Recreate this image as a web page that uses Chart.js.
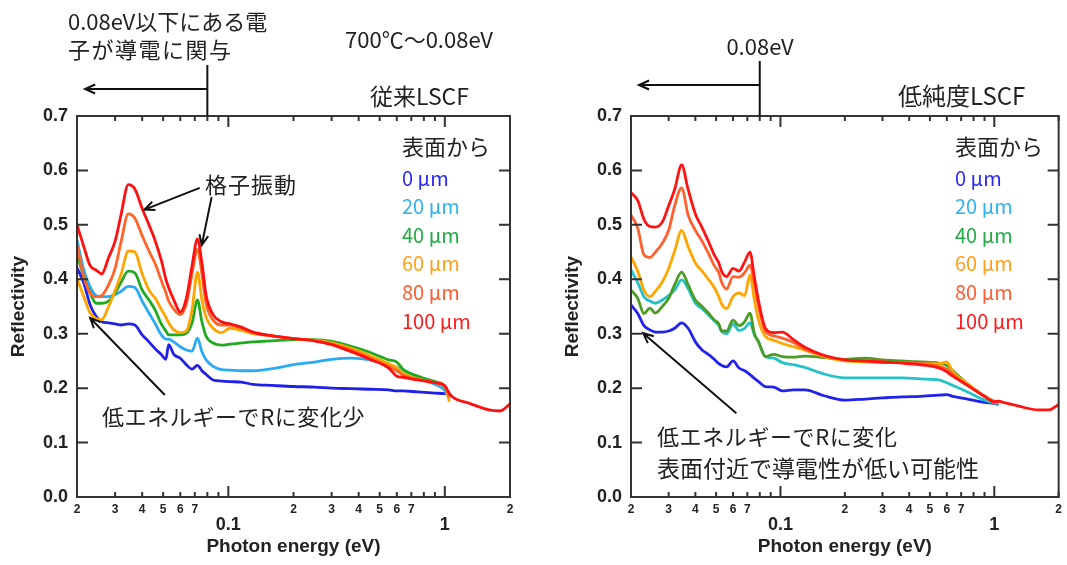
<!DOCTYPE html>
<html>
<head>
<meta charset="utf-8">
<script src="https://cdn.jsdelivr.net/npm/chart.js@4.4.1/dist/chart.umd.min.js"></script>
<style>
  html, body { margin: 0; padding: 0; background: #fff; }
  #wrap { position: relative; width: 1067px; height: 565px; overflow: hidden; }
  .panel { position: absolute; top: 0; }
  #left { left: 0; }
  #right { left: 554px; }
</style>
</head>
<body>
<div id="wrap">
  <div class="panel" id="left"><canvas id="cLeft" width="540" height="565"></canvas></div>
  <div class="panel" id="right"><canvas id="cRight" width="513" height="565"></canvas></div>
</div>
<script>
// --- data ---
const depths = ['0 µm', '20 µm', '40 µm', '60 µm', '80 µm', '100 µm'];

// photon energy (eV), shared grid for both panels
const energy = [0.02, 0.0215, 0.023, 0.0245, 0.026, 0.028, 0.030, 0.032, 0.0345, 0.037,
  0.040, 0.043, 0.046, 0.049, 0.0515, 0.053, 0.056, 0.060, 0.064, 0.068,
  0.072, 0.0755, 0.079, 0.085, 0.093, 0.102, 0.115, 0.13, 0.16, 0.2,
  0.25, 0.3, 0.37, 0.45, 0.55, 0.6, 0.64, 0.75, 0.9, 1.0,
  1.05, 1.1, 1.3, 1.6, 1.8, 2.0];

// 従来LSCF
const conv0 = [.421, .393, .353, .332, .322, .320, .318, .316, .318, .316, .298, .285, .272, .262, .253, .280, .262, .255, .243, .235,
  .242, .232, .225, .215, .213, .212, .211, .207, .205, .203, .202, .200, .199, .198, .197, .195, .195, .193, .191, .190, .195];
const conv20 = [.472, .417, .386, .370, .368, .368, .372, .378, .387, .385, .360, .338, .318, .298, .290, .290, .285, .276, .270, .268,
  .292, .267, .252, .240, .234, .233, .232, .232, .236, .243, .248, .253, .255, .252, .243, .238, .233, .220, .207, .196, .180];
const conv40 = [.448, .404, .375, .356, .356, .360, .375, .395, .415, .412, .380, .362, .343, .318, .305, .298, .298, .298, .301, .320,
  .362, .322, .295, .283, .279, .281, .283, .285, .287, .289, .289, .286, .277, .266, .252, .248, .235, .222, .212, .204, .185];
const conv60 = [.402, .368, .338, .328, .326, .350, .380, .410, .452, .450, .410, .380, .365, .345, .330, .320, .307, .302, .305, .345,
  .413, .362, .330, .310, .302, .310, .306, .300, .296, .291, .288, .283, .273, .260, .245, .238, .228, .217, .210, .204, .175];
const conv80 = [.463, .404, .375, .368, .370, .390, .420, .470, .520, .512, .480, .452, .428, .398, .375, .360, .345, .335, .355, .410,
  .455, .410, .355, .325, .316, .316, .310, .302, .296, .291, .287, .281, .270, .256, .240, .232, .224, .216, .210, .204, .185];
const conv100 = [.500, .460, .425, .417, .410, .440, .470, .520, .574, .566, .530, .500, .470, .435, .400, .385, .362, .340, .365, .425,
  .474, .430, .370, .335, .322, .318, .312, .303, .296, .291, .287, .280, .267, .253, .237, .222, .220, .215, .210, .204,
  .190, .182, .172, .160, .158, .171];

// 低純度LSCF
const low0 = [.353, .337, .315, .307, .303, .303, .305, .310, .320, .310, .285, .270, .262, .253, .245, .242, .239, .250, .237, .232,
  .225, .218, .212, .203, .202, .195, .197, .197, .186, .178, .180, .182, .184, .185, .187, .188, .185, .180, .174, .172, .170];
const low20 = [.417, .394, .368, .360, .356, .362, .370, .380, .399, .383, .356, .346, .335, .324, .315, .305, .300, .318, .306, .310,
  .320, .298, .285, .258, .255, .247, .243, .238, .226, .219, .219, .219, .219, .217, .215, .210, .205, .193, .178, .173, .172];
const low40 = [.380, .365, .337, .347, .338, .350, .365, .390, .413, .390, .362, .350, .338, .325, .318, .305, .305, .325, .315, .322,
  .338, .300, .285, .258, .262, .258, .257, .259, .256, .253, .255, .252, .250, .248, .246, .242, .232, .208, .185, .176, .175];
const low60 = [.441, .415, .380, .368, .378, .395, .420, .452, .490, .460, .430, .415, .400, .385, .368, .355, .346, .368, .375, .370,
  .408, .362, .325, .295, .288, .282, .276, .270, .258, .250, .248, .247, .247, .245, .245, .248, .230, .208, .185, .175, .172];
const low80 = [.518, .494, .445, .440, .450, .466, .490, .535, .568, .518, .490, .470, .448, .425, .412, .395, .382, .405, .404, .412,
  .426, .393, .350, .305, .296, .292, .284, .272, .260, .252, .250, .248, .247, .245, .240, .235, .225, .205, .185, .175, .175];
const low100 = [.559, .545, .510, .497, .496, .505, .535, .565, .610, .565, .520, .495, .470, .445, .430, .415, .405, .420, .415, .432,
  .450, .404, .360, .310, .302, .303, .289, .275, .260, .252, .250, .248, .246, .243, .237, .230, .222, .205, .185, .175,
  .176, .174, .167, .160, .160, .170];

// axis ticks
const xTicks = [0.02, 0.03, 0.04, 0.05, 0.06, 0.07, 0.08, 0.09, 0.1, 0.2, 0.3, 0.4, 0.5, 0.6, 0.7, 0.8, 0.9, 1, 2];
const xTickLabels = ['2', '3', '4', '5', '6', '7', '', '', '0.1', '2', '3', '4', '5', '6', '7', '', '', '1', '2'];

// colours
const legendColors = ['#2a2af5', '#2cb4f0', '#22aa44', '#ffa01a', '#ff5a30', '#ff1a1a'];
const convColors = ['#2020e8', '#2aaaf2', '#20aa20', '#ffa500', '#ff6428', '#ff1010'];
const lowColors = ['#2222ee', '#22c2c8', '#4a9c22', '#ffa500', '#ff6030', '#ff1414'];

const AX_FONT = 'Liberation Sans, Arial, sans-serif';
const JP_FONT = '"Noto Sans CJK JP", sans-serif';
const INK = '#222';

const isDecade = v => {
    const e = Math.floor(Math.log10(v) + 1e-9);
    return Math.abs(v / Math.pow(10, e) - 1) < 1e-6;
};

function arrow(ctx, x1, y1, x2, y2) {
    const ang = Math.atan2(y2 - y1, x2 - x1), h = 11, s = 0.42;
    ctx.beginPath();
    ctx.moveTo(x1, y1);
    ctx.lineTo(x2, y2);
    ctx.moveTo(x2 - h * Math.cos(ang - s), y2 - h * Math.sin(ang - s));
    ctx.lineTo(x2, y2);
    ctx.lineTo(x2 - h * Math.cos(ang + s), y2 - h * Math.sin(ang + s));
    ctx.stroke();
}

// frame with inward ticks + annotations
function makeOverlay(notes) {
    return {
        id: 'overlay',
        afterDraw(chart) {
            const { ctx, chartArea: a, scales: { x, y } } = chart;
            ctx.save();
            // frame & ticks
            ctx.strokeStyle = '#333';
            ctx.lineWidth = 2;
            ctx.strokeRect(a.left, a.top, a.width, a.height);
            ctx.beginPath();
            y.ticks.forEach(t => {
                const py = y.getPixelForValue(t.value);
                ctx.moveTo(a.left, py); ctx.lineTo(a.left + 11, py);
                ctx.moveTo(a.right, py); ctx.lineTo(a.right - 11, py);
            });
            x.ticks.forEach(t => {
                const px = x.getPixelForValue(t.value);
                const len = isDecade(t.value) ? 11 : 5;
                ctx.moveTo(px, a.bottom); ctx.lineTo(px, a.bottom - len);
                ctx.moveTo(px, a.top); ctx.lineTo(px, a.top + len);
            });
            ctx.stroke();

            // 0.08 eV marker with leftward arrow
            ctx.strokeStyle = '#111';
            ctx.lineWidth = 2;
            const mx = x.getPixelForValue(0.08);
            ctx.beginPath();
            ctx.moveTo(mx, notes.markTop);
            ctx.lineTo(mx, a.top);
            ctx.stroke();
            arrow(ctx, mx, notes.arrowY, x.getPixelForValue(0.0218), notes.arrowY);

            // arrows inside the plot (data coords)
            notes.arrows.forEach(([e1, r1, e2, r2]) => {
                arrow(ctx, x.getPixelForValue(e1), y.getPixelForValue(r1),
                    x.getPixelForValue(e2), y.getPixelForValue(r2));
            });

            // texts
            ctx.fillStyle = INK;
            ctx.textBaseline = 'middle';
            notes.texts.forEach(([txt, tx, ty, size, align, spacing]) => {
                ctx.font = `${size}px ${JP_FONT}`;
                ctx.textAlign = align || 'left';
                ctx.letterSpacing = (spacing || 0) + 'px';
                ctx.fillText(txt, tx, ty);
            });
            ctx.letterSpacing = '0px';

            // legend: coloured text only
            ctx.textAlign = 'left';
            ctx.font = `22px ${JP_FONT}`;
            ctx.fillText('表面から', notes.legendX, 147);
            ctx.font = `20px ${JP_FONT}`;
            chart.data.datasets.forEach((ds, i) => {
                ctx.fillStyle = legendColors[i];
                ctx.fillText(ds.label, notes.legendX, 178 + i * 28.6);
            });
            ctx.restore();
        }
    };
}

function buildChart(canvasId, series, colors, padRight, notes) {
    const datasets = series.map((vals, i) => ({
        label: depths[i],
        data: vals.map((v, k) => ({ x: energy[k], y: v })),
        borderColor: colors[i],
        borderWidth: 2.8,
        pointRadius: 0,
        cubicInterpolationMode: 'monotone',
        fill: false,
        order: series.length - 1 - i
    }));

    return new Chart(document.getElementById(canvasId), {
        type: 'line',
        data: { datasets },
        plugins: [makeOverlay(notes)],
        options: {
            responsive: false,
            animation: false,
            layout: { padding: { left: 0, top: 116, right: padRight, bottom: 0 } },
            plugins: { legend: { display: false }, tooltip: { enabled: false } },
            scales: {
                x: {
                    type: 'logarithmic',
                    min: 0.02,
                    max: 2,
                    bounds: 'data',
                    afterBuildTicks: s => { s.ticks = xTicks.map(v => ({ value: v })); },
                    afterFit: s => { s.height = 68; },
                    grid: { display: false, drawTicks: false },
                    border: { display: false },
                    ticks: {
                        autoSkip: false,
                        maxRotation: 0,
                        padding: 5,
                        color: INK,
                        font: c => isDecade(c.tick.value)
                            ? { family: AX_FONT, size: 18, weight: 'bold', lineHeight: 0.85 }
                            : { family: AX_FONT, size: 12, weight: 'bold', lineHeight: 1.2 },
                        callback: (v, i) => isDecade(v) ? ['', xTickLabels[i]] : xTickLabels[i]
                    },
                    title: {
                        display: true,
                        text: 'Photon energy (eV)',
                        color: INK,
                        font: { family: AX_FONT, size: 19, weight: 'bold' },
                        padding: { top: 0, bottom: 7 }
                    }
                },
                y: {
                    min: 0,
                    max: 0.7,
                    afterFit: s => { s.width = 77; },
                    grid: { display: false, drawTicks: false },
                    border: { display: false },
                    ticks: {
                        stepSize: 0.1,
                        padding: 9,
                        color: INK,
                        font: { family: AX_FONT, size: 18, weight: 'bold' },
                        callback: v => v.toFixed(1)
                    },
                    title: {
                        display: true,
                        text: 'Reflectivity',
                        color: INK,
                        font: { family: AX_FONT, size: 19, weight: 'bold' },
                        padding: { top: 7, bottom: 0 }
                    }
                }
            }
        }
    });
}

buildChart('cLeft', [conv0, conv20, conv40, conv60, conv80, conv100], convColors, 30, {
    markTop: 65,
    arrowY: 89,
    legendX: 402,
    arrows: [[0.0738, 0.568, 0.041, 0.528], [0.0837, 0.551, 0.0754, 0.463], [0.0509, 0.1875, 0.023, 0.329]],
    texts: [
        ['0.08eV以下にある電', 68, 22, 22],
        ['子が導電に関与', 68, 50, 22, 'left', 1.5],
        ['700℃～0.08eV', 345, 40, 22],
        ['従来LSCF', 370, 96, 23],
        ['格子振動', 205, 185, 22, 'left', 1],
        ['低エネルギーでRに変化少', 102, 417, 22, 'left', 0.6]
    ]
});

buildChart('cRight', [low0, low20, low40, low60, low80, low100], lowColors, 4, {
    markTop: 61,
    arrowY: 85,
    legendX: 401,
    arrows: [[0.0622, 0.154, 0.0228, 0.301]],
    texts: [
        ['0.08eV', 206, 47, 22, 'center'],
        ['低純度LSCF', 344, 96, 24],
        ['低エネルギーでRに変化', 103, 437, 22, 'left', 0.6],
        ['表面付近で導電性が低い可能性', 103, 468, 23]
    ]
});
</script>
</body>
</html>
